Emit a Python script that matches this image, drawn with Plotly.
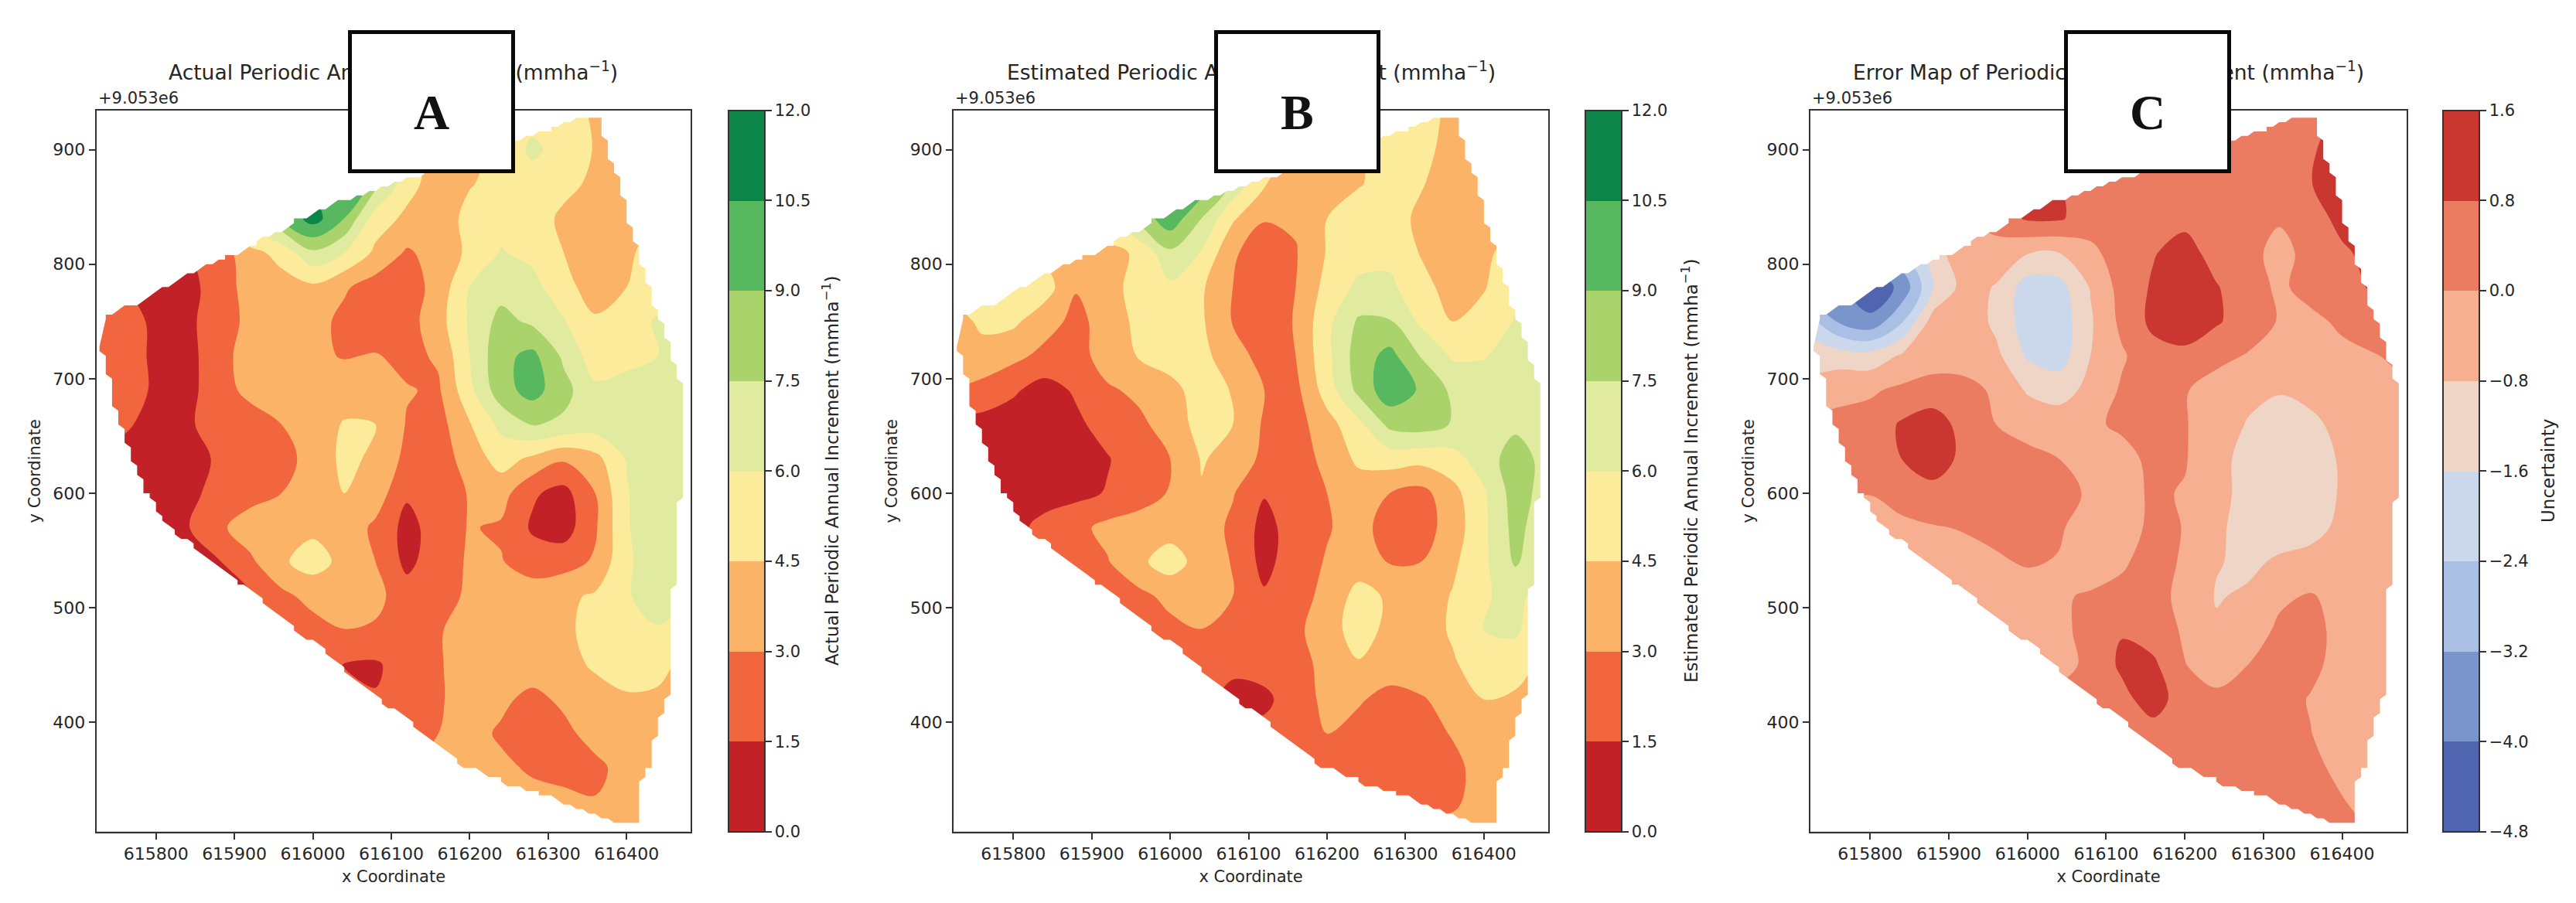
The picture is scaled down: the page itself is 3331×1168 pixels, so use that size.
"""Three gridded maps of periodic annual increment: actual, estimated and error."""

import numpy as np
import plotly.graph_objects as go
from plotly.subplots import make_subplots

WIDTH = 3331
HEIGHT = 1168
PAGE_MARGIN = 8  # browser default body margin round the plot div

x_cols = [615720, 615760, 615800, 615840, 615880, 615920, 615960, 616000, 616040, 616080,
          616120, 616160, 616200, 616240, 616280, 616320, 616360, 616400, 616440, 616480]
y_rows = [930, 900, 870, 840, 810, 780, 750, 720, 690, 660, 630,
          600, 570, 540, 510, 480, 450, 420, 390, 360, 330, 300]

actual_z = [
    [5, 5, 5, 5, 5, 5, 5, 5, 5, 4.5, 4, 4, 4.2, 5, 5.5, 5.5, 4.2, 4, 4, 4],
    [7, 7, 7, 7, 7, 7, 7, 7, 7, 6, 5, 4, 4, 5, 6.3, 5.4, 4.4, 4, 4, 4],
    [9, 9, 9, 9, 9, 9, 9, 10, 11, 8, 5, 3.8, 4.4, 5, 5.3, 4.9, 4.2, 3.9, 4, 4],
    [3, 3, 3, 4, 5, 7, 9, 11.2, 9, 5.2, 4.2, 3.6, 5, 5.5, 5.2, 4.2, 3.6, 4.0, 4.6, 5],
    [1.5, 1, 1, 1.5, 2.2, 4, 5, 7.2, 6, 4.2, 2.8, 3.6, 4.8, 6.1, 5.6, 4.5, 3.5, 4.3, 5, 5.5],
    [2, 1.5, 0.8, 1.0, 2.2, 3.6, 3.9, 4.2, 3.2, 2.3, 2.2, 3.6, 6.0, 6.9, 6.5, 5, 3.8, 4.5, 5.3, 6],
    [2, 2.1, 1.2, 1.2, 2.2, 3.4, 3.8, 3.6, 2.6, 2.0, 2.4, 3.9, 6.2, 8, 7.2, 6.1, 4.7, 5.2, 6.2, 6.8],
    [2, 2.2, 1.2, 1, 2.4, 3.7, 4, 3.3, 2.9, 3.1, 2.6, 3.2, 6.0, 8.6, 9.4, 7.2, 5.2, 5.6, 6, 7],
    [2.2, 2.4, 1.2, 1.0, 2.4, 3.4, 3.8, 3.7, 3.9, 3.9, 3.1, 2.8, 5.6, 8.4, 9.6, 8.0, 6.3, 6.5, 7, 7.2],
    [2.2, 1.7, 1.0, 1.3, 2.1, 2.3, 3.0, 3.8, 4.6, 4.5, 2.9, 2.4, 4.4, 6.4, 7.6, 7.2, 6.8, 7, 7.2, 7.3],
    [1.5, 1, 0.8, 0.9, 1.7, 2.3, 2.6, 3.4, 4.9, 4.2, 2.6, 2.2, 3.7, 5.1, 4.2, 3.2, 4.0, 6.1, 6.8, 7],
    [1, 0.8, 0.9, 1.0, 2.1, 2.4, 3.0, 3.9, 4.5, 3.8, 1.7, 2.2, 3.1, 3.6, 1.7, 1.0, 3.0, 5.9, 7, 7.2],
    [1, 1, 1, 1.4, 2.7, 3.8, 4.1, 4.2, 3.9, 2.7, 1.0, 2.2, 3.1, 2.8, 1.3, 0.8, 2.8, 5.9, 6.8, 7],
    [1, 1, 1, 1, 1.4, 2.7, 4.3, 5.1, 4.1, 3.0, 1.1, 2.4, 3.15, 3.1, 2.2, 2.4, 3.2, 5.8, 6.7, 7],
    [1, 1, 1, 1, 1, 1.4, 2.6, 3.5, 4.0, 3.4, 2.2, 2.3, 3.3, 3.8, 3.9, 4.2, 4.7, 5.9, 6.5, 6],
    [1.5, 1.5, 1.5, 1.5, 1.5, 1.5, 1.8, 2.4, 2.95, 2.8, 2.4, 2.9, 3.5, 3.8, 3.9, 4.2, 5, 5.6, 5.9, 5.5],
    [2, 2, 2, 2, 2, 2, 2, 2, 1.45, 1.3, 2.2, 2.9, 3.5, 3.7, 3.8, 4.0, 4.7, 5.2, 5, 4],
    [2, 2, 2, 2, 2, 2, 2, 2, 2, 1.6, 2.1, 2.9, 3.4, 3.3, 2.6, 3.3, 3.9, 4.3, 4.2, 4],
    [2.2, 2.2, 2.2, 2.2, 2.2, 2.2, 2.2, 2.2, 2.2, 2.2, 2, 3.0, 3.5, 2.8, 2.2, 2.6, 3.6, 4, 4, 4],
    [3, 3, 3, 3, 3, 3, 3, 3, 3, 3, 3, 3.2, 3.5, 3.3, 2.8, 2.5, 2.6, 3.6, 4, 4],
    [3.5, 3.5, 3.5, 3.5, 3.5, 3.5, 3.5, 3.5, 3.5, 3.5, 3.5, 3.5, 3.5, 3.5, 3.5, 3.4, 3.1, 3.8, 4, 4],
    [3.8, 3.8, 3.8, 3.8, 3.8, 3.8, 3.8, 3.8, 3.8, 3.8, 3.8, 3.8, 3.8, 3.8, 3.8, 3.8, 3.8, 3.8, 3.8, 3.8],
]

estimated_z = [
    [5, 5, 5, 5, 5, 5, 5, 5, 5, 4.5, 4, 4, 4, 4.5, 5, 5, 4.2, 4, 4, 4],
    [7, 7, 7, 7, 7, 7, 7, 7, 7, 6, 5, 4, 3.8, 4.4, 5, 5, 3.9, 3.8, 4, 4],
    [9, 9, 9, 9, 9, 9, 9, 10, 10, 7, 4.6, 3.7, 3.6, 4.4, 5, 4.6, 3.8, 3.8, 4, 4],
    [4, 4, 4, 4, 5, 6, 8, 10, 7.5, 4.7, 3.1, 3.2, 4.5, 5.2, 5.1, 4.2, 3.6, 3.9, 4.4, 5],
    [4, 4, 4, 4, 3.5, 3.9, 4.8, 7.2, 5.9, 3.2, 2.2, 2.9, 4.6, 5.4, 5.6, 4.4, 3.7, 4.3, 4.9, 5.5],
    [5.2, 5.2, 5.2, 5.2, 3.1, 4.0, 5, 5.7, 4.7, 3.0, 2.2, 3.0, 5.0, 6.3, 6.3, 5.0, 3.9, 4.4, 5.5, 6],
    [3.5, 4.9, 4.8, 3.6, 2.6, 3.6, 4.9, 5.4, 4.7, 2.9, 2.2, 3.1, 5.6, 7.7, 7.6, 5.7, 4.5, 5.0, 6.1, 6.7],
    [3.4, 3.8, 3.4, 2.6, 2.4, 3.7, 4.6, 5.2, 4.9, 3.7, 2.4, 3.0, 5.6, 8.2, 9.5, 7.4, 5.8, 5.9, 6.6, 7],
    [3, 2.6, 1.7, 0.9, 1.7, 2.8, 3.3, 4.0, 5.2, 4.4, 3.0, 2.6, 5.2, 7.9, 10, 8.8, 7.2, 6.8, 7, 7.2],
    [1, 0.9, 0.8, 0.8, 1.2, 2.1, 2.7, 3.6, 5.1, 4.5, 2.8, 2.4, 3.9, 5.6, 7.9, 8.2, 7.4, 7, 7.2, 7.2],
    [0.6, 0.6, 0.7, 0.7, 1, 1.4, 2.3, 3.0, 4.6, 4.1, 2.6, 2.3, 3.4, 4.8, 5.2, 5, 5.4, 6.8, 8.2, 7],
    [0.5, 0.5, 0.7, 0.8, 1.1, 1.6, 2.4, 3.1, 4.4, 3.1, 1.6, 2.2, 3.0, 3.7, 3.0, 2.5, 4.0, 5.8, 8.2, 6.9],
    [1, 1, 1, 2, 2.6, 3.4, 3.6, 3.9, 3.8, 2.7, 1, 2.2, 2.9, 3.5, 2.4, 2.3, 3.7, 5.7, 8, 6.5],
    [1.5, 1.5, 1.5, 1.5, 1.7, 2.9, 4.2, 5.2, 3.9, 2.9, 1, 2.4, 3.1, 3.8, 2.9, 3.0, 4.2, 5.7, 7.7, 6.3],
    [1.5, 1.5, 1.5, 1.5, 1.5, 1.6, 2.6, 3.4, 3.9, 3.0, 1.7, 2.3, 3.5, 5, 4.3, 3.7, 4.6, 5.9, 6.3, 5.5],
    [2, 2, 2, 2, 2, 2, 2.2, 2.6, 2.95, 3.0, 2.4, 2.6, 4, 5, 4.2, 3.7, 4.7, 6, 6.2, 5],
    [2, 2, 2, 2, 2, 2, 2, 2, 2, 1.8, 2.2, 2.5, 3.4, 4.4, 3.9, 3.7, 4.3, 5.3, 5.3, 4],
    [2, 2, 2, 2, 2, 2, 2, 2, 2, 1.1, 1.1, 2.4, 3.3, 3.2, 2.4, 2.9, 3.4, 4.5, 4.2, 4],
    [2, 2, 2, 2, 2, 2, 2, 2, 2, 2, 2, 2.6, 3, 2.4, 2.2, 2.4, 3.1, 3.9, 4, 4],
    [2.4, 2.4, 2.4, 2.4, 2.4, 2.4, 2.4, 2.4, 2.4, 2.4, 2.4, 2.4, 2.4, 2.2, 2.2, 2.3, 2.6, 3.6, 3.9, 4],
    [2.5, 2.5, 2.5, 2.5, 2.5, 2.5, 2.5, 2.5, 2.5, 2.5, 2.5, 2.5, 2.5, 2.5, 2.5, 2.5, 2.8, 3.5, 3.8, 4],
    [3.5, 3.5, 3.5, 3.5, 3.5, 3.5, 3.5, 3.5, 3.5, 3.5, 3.5, 3.5, 3.5, 3.5, 3.5, 3.5, 3.5, 3.5, 3.5, 3.5],
]

error_z = [
    [.4, .4, .4, .4, .4, .4, .4, .4, .4, .4, .4, .4, .4, .4, .4, .4, .4, 1, 1, 1],
    [.4, .4, .4, .4, .4, .4, .4, .4, .4, .4, .4, .4, .4, .4, .4, .4, .7, 1.2, 1.2, 1.2],
    [.8, .8, .8, .8, .8, .8, .8, .9, .8, .5, .4, .4, .4, .4, .4, .4, .75, 1.6, 1.6, 1.6],
    [-2, -2, -2, -2, -1, 0, .4, .9, .9, .4, .4, .5, .6, .4, .3, .1, .5, 1.0, 1.2, 1.2],
    [-3, -3.2, -3.4, -2.6, -1.2, -.2, -.4, -.75, -.8, -.2, .4, .75, 1.1, .5, .3, -.3, .3, .7, 1, 1.2],
    [-3.2, -3.8, -4.6, -3.8, -1.6, -.5, -.85, -2, -1.9, -.75, .3, .9, 1.4, .85, .4, -.15, .3, .5, .9, 1.1],
    [-2, -3.3, -3.8, -2.5, -.45, -.2, -1.0, -2.0, -2.1, -.9, .2, 1.0, 1.5, .9, .4, -.05, -.2, .15, .5, 1],
    [-1.1, -1.2, -1.3, -.7, -.4, -.3, -.6, -1.7, -2.0, -.8, -.1, .5, .5, .2, -.05, -.2, -.3, -.2, -.05, .2],
    [-.6, -.2, -.1, .15, .35, .2, -.1, -.9, -1.1, -.6, .1, .4, .05, -.3, -.6, -.75, -.6, -.5, -.3, -.1],
    [.2, .2, .3, .9, 1.2, .5, 0, -.2, -.4, -.1, .1, .35, .05, -.4, -.85, -1.1, -.95, -.6, -.3, -.2],
    [.4, .4, .5, .8, 1.2, .6, .4, .15, 0, -.1, -.2, .15, .05, -.5, -1.1, -1.3, -1.2, -.7, -.3, -.2],
    [.3, .1, .02, .35, .55, .5, .35, .3, .25, -.1, -.25, .1, -.05, -.5, -1.1, -1.4, -1.3, -.7, -.3, -.2],
    [-.3, -.3, -.3, -.2, -.05, .05, .2, .25, .1, -.4, -.3, .15, -.02, -.7, -1, -1.15, -1.1, -.6, -.3, -.2],
    [-.5, -.5, -.5, -.5, -.4, -.25, -.1, .08, -.05, -.5, -.1, .3, -.1, -.75, -.95, -.7, -.5, -.35, -.2, -.2],
    [-.5, -.5, -.5, -.5, -.5, -.5, -.5, -.4, -.1, .1, .2, .25, -.2, -.85, -.7, -.1, .05, -.2, -.3, -.3],
    [-.5, -.5, -.5, -.5, -.5, -.5, -.5, -.5, -.15, .2, .75, .4, -.1, -.7, -.3, .1, .2, -.2, -.3, -.3],
    [-.4, -.4, -.4, -.4, -.4, -.4, -.4, -.4, -.3, .2, .95, .95, .02, -.3, 0, .25, .2, -.3, -.4, -.4],
    [.3, .3, .3, .3, .3, .3, .3, .3, .3, .3, .55, 1.2, .35, .15, .2, .3, -.05, -.3, -.4, -.4],
    [.4, .4, .4, .4, .4, .4, .4, .4, .4, .4, .4, .45, .4, .4, .4, .3, .02, -.4, -.5, -.5],
    [.4, .4, .4, .4, .4, .4, .4, .4, .4, .4, .4, .4, .4, .4, .4, .35, .2, -.2, -.5, -.5],
    [.4, .4, .4, .4, .4, .4, .4, .4, .4, .4, .4, .4, .4, .4, .4, .4, .35, .05, -.3, -.5],
    [.4, .4, .4, .4, .4, .4, .4, .4, .4, .4, .4, .4, .4, .4, .4, .4, .4, .3, 0, -.5],
]

# outline of the surveyed stand, clockwise from the west corner
stand_x = [615729, 615744, 615758, 615776, 615786, 615803, 615821, 615849, 615870, 615905,
           615926, 615943, 615964, 615978, 616002, 616027, 616055, 616083, 616107, 616142,
           616201, 616229, 616257, 616282, 616306, 616327, 616341, 616367, 616372, 616381,
           616390, 616397, 616404, 616414, 616423, 616432, 616449, 616461, 616474, 616474,
           616467, 616467, 616460, 616458, 616451, 616439, 616428, 616418, 616414, 616386,
           616362, 616334, 616299, 616264, 616229, 616194, 616160, 616125, 616090, 616055,
           616020, 615985, 615950, 615915, 615880, 615845, 615810, 615790, 615769, 615758,
           615746, 615737, 615729]
stand_y = [749, 757, 763, 764, 770, 776, 783, 794, 802, 809,
           817, 826, 830, 838, 845, 853, 859, 866, 872, 878,
           880, 892, 908, 913, 918, 925, 929, 929, 910, 890,
           875, 855, 837, 814, 794, 767, 744, 711, 689, 603,
           593, 528, 518, 452, 417, 397, 362, 344, 311, 311,
           319, 324, 337, 342, 352, 362, 379, 400, 417, 437,
           460, 477, 498, 518, 535, 555, 576, 598, 633, 654,
           681, 709, 729]

x_range = [615724, 616482]
y_range = [304.4, 934.2]
x_ticks = [615800, 615900, 616000, 616100, 616200, 616300, 616400]
y_ticks = [400, 500, 600, 700, 800, 900]

increment_levels = [0, 1.5, 3, 4.5, 6, 7.5, 9, 10.5, 12]
increment_colors = ["#c22127", "#f1663f", "#fab367", "#fdeb9c", "#e1eb9f", "#abd36b", "#57b85f", "#0c8548"]
error_levels = [-4.8, -4.0, -3.2, -2.4, -1.6, -0.8, 0.0, 0.8, 1.6]
error_colors = ["#5065b0", "#7a94cc", "#a9c0e4", "#cbd8ec", "#eed5c6", "#f6af91", "#ec7c61", "#c93730"]

panels = [
    dict(z=actual_z, levels=increment_levels, colors=increment_colors,
         title="Actual Periodic Annual Increment (mmha<sup>−1</sup>)",
         bar_title="Actual Periodic Annual Increment (mmha<sup>−1</sup>)",
         letter="A", plot=(124.6, 893.4), bar=941.5, bar_label=1074, box=(450, 666)),
    dict(z=estimated_z, levels=increment_levels, colors=increment_colors,
         title="Estimated Periodic Annual Increment (mmha<sup>−1</sup>)",
         bar_title="Estimated Periodic Annual Increment (mmha<sup>−1</sup>)",
         letter="B", plot=(1233.2, 2002), bar=2050, bar_label=2185, box=(1570, 1785)),
    dict(z=error_z, levels=error_levels, colors=error_colors,
         title="Error Map of Periodic Annual Increment (mmha<sup>−1</sup>)",
         bar_title="Uncertainty",
         letter="C", plot=(2341, 3112), bar=3159, bar_label=3295, box=(2669.5, 2885)),
]

PLOT_TOP = 143
PLOT_BOTTOM = 1075.6
TEXT = "#262626"
FONT = "DejaVu Sans"
FIG_W = WIDTH - 2 * PAGE_MARGIN
FIG_H = HEIGHT - 2 * PAGE_MARGIN


def px_x(px):
    return (px - PAGE_MARGIN) / FIG_W


def px_y(px):
    return 1 - (px - PAGE_MARGIN) / FIG_H


def step_colorscale(colors):
    """Colorscale with one flat block per contour band."""
    n = len(colors)
    scale = []
    for i, color in enumerate(colors):
        scale.append([i / n, color])
        scale.append([(i + 1) / n, color])
    return scale


def stepped_outline(xs, ys, dx=8.0, dy=4.0):
    """Snap the outline to the raster cells, which gives the jagged map edge."""
    out_x, out_y = [], []
    for i in range(len(xs) - 1):
        n = int(max(abs(xs[i + 1] - xs[i]) / dx, abs(ys[i + 1] - ys[i]) / dy)) + 1
        for t in range(n):
            out_x.append(xs[i] + (xs[i + 1] - xs[i]) * t / n)
            out_y.append(ys[i] + (ys[i + 1] - ys[i]) * t / n)
    snapped_x = np.round(np.array(out_x) / dx) * dx
    snapped_y = np.round(np.array(out_y) / dy) * dy
    return snapped_x.tolist(), snapped_y.tolist()


edge_x, edge_y = stepped_outline(stand_x[::-1], stand_y[::-1])
# white sheet with the stand cut out of it, to blank the grid outside the stand;
# it runs past the axes so no sliver of the grid shows along the frame
sheet_x = [x_range[0] - 30, x_range[1] + 30]
sheet_y = [y_range[0] - 30, y_range[1] + 30]
mask_x = [sheet_x[0], sheet_x[0], sheet_x[1], sheet_x[1], sheet_x[0]] + edge_x + [edge_x[0], sheet_x[0]]
mask_y = [sheet_y[0], sheet_y[1], sheet_y[1], sheet_y[0], sheet_y[0]] + edge_y + [edge_y[0], sheet_y[0]]

fig = make_subplots(rows=1, cols=3)
annotations = []

for col, p in enumerate(panels, start=1):
    levels = p["levels"]
    fig.add_trace(
        go.Contour(
            x=x_cols,
            y=y_rows,
            z=p["z"],
            zmin=levels[0],
            zmax=levels[-1],
            colorscale=step_colorscale(p["colors"]),
            contours=dict(start=levels[0], end=levels[-1], size=levels[1] - levels[0],
                          coloring="fill", showlines=False),
            line=dict(width=0, smoothing=1),
            colorbar=dict(
                x=px_x(p["bar"]), xanchor="left", xpad=0,
                y=px_y((PLOT_TOP + PLOT_BOTTOM) / 2), yanchor="middle", ypad=0,
                len=(PLOT_BOTTOM - PLOT_TOP) / FIG_H,
                thickness=46.5,
                outlinecolor="#333333", outlinewidth=2,
                tickvals=levels,
                ticktext=[f"{v:.1f}".replace("-", "−") for v in levels],
                ticks="outside", ticklen=8, tickwidth=2, tickcolor="#333333",
                tickfont=dict(family=FONT, size=21, color=TEXT),
            ),
            hovertemplate="x %{x}<br>y %{y}<br>%{z:.2f}<extra></extra>",
        ),
        row=1, col=col,
    )
    fig.add_trace(
        go.Scatter(x=mask_x, y=mask_y, mode="lines", line=dict(width=0, color="white"),
                   fill="toself", fillcolor="white", hoverinfo="skip", showlegend=False),
        row=1, col=col,
    )
    left, right = p["plot"]
    fig.update_xaxes(
        domain=[px_x(left), px_x(right)], range=x_range,
        tickvals=x_ticks, tickformat="d",
        title=dict(text="x Coordinate", standoff=10, font=dict(family=FONT, size=21, color=TEXT)),
        row=1, col=col,
    )
    fig.update_yaxes(
        domain=[px_y(PLOT_BOTTOM), px_y(PLOT_TOP)], range=y_range,
        tickvals=y_ticks,
        title=dict(text="y Coordinate", standoff=10, font=dict(family=FONT, size=21, color=TEXT)),
        row=1, col=col,
    )

    center = (left + right) / 2
    annotations.append(dict(
        text=p["title"], xref="paper", yref="paper", x=px_x(center), y=px_y(92),
        xanchor="center", yanchor="middle", showarrow=False,
        font=dict(family=FONT, size=26.5, color=TEXT),
    ))
    annotations.append(dict(
        text="+9.053e6", xref="paper", yref="paper", x=px_x(left), y=px_y(127),
        xanchor="left", yanchor="middle", showarrow=False,
        font=dict(family=FONT, size=21, color=TEXT),
    ))
    annotations.append(dict(
        text=p["bar_title"], xref="paper", yref="paper", x=px_x(p["bar_label"]), y=px_y(609),
        xanchor="center", yanchor="middle", showarrow=False, textangle=-90,
        font=dict(family=FONT, size=23, color=TEXT),
    ))
    # panel letter box sits over the title and the frame
    box_left, box_right = p["box"]
    annotations.append(dict(
        text=" ", xref="paper", yref="paper", x=px_x((box_left + box_right) / 2), y=px_y(131),
        xanchor="center", yanchor="middle", showarrow=False,
        width=box_right - box_left - 10, height=175, bgcolor="white",
        bordercolor="#0a0a0a", borderwidth=5, borderpad=0,
    ))
    annotations.append(dict(
        text=f"<b>{p['letter']}</b>", xref="paper", yref="paper",
        x=px_x((box_left + box_right) / 2), y=px_y(145),
        xanchor="center", yanchor="middle", showarrow=False,
        font=dict(family="Liberation Serif", size=64, color="#111111"),
    ))

fig.update_xaxes(showgrid=False, zeroline=False, showline=True, mirror=True,
                 linecolor="#333333", linewidth=2, ticks="outside", ticklen=8, tickwidth=2,
                 tickcolor="#333333", tickfont=dict(family=FONT, size=22, color=TEXT))
fig.update_yaxes(showgrid=False, zeroline=False, showline=True, mirror=True,
                 linecolor="#333333", linewidth=2, ticks="outside", ticklen=8, tickwidth=2,
                 tickcolor="#333333", tickfont=dict(family=FONT, size=22, color=TEXT))

fig.update_layout(
    width=FIG_W,
    height=FIG_H,
    margin=dict(l=0, r=0, t=0, b=0),
    paper_bgcolor="white",
    plot_bgcolor="white",
    showlegend=False,
    annotations=annotations,
)

fig.write_html("out.html")
